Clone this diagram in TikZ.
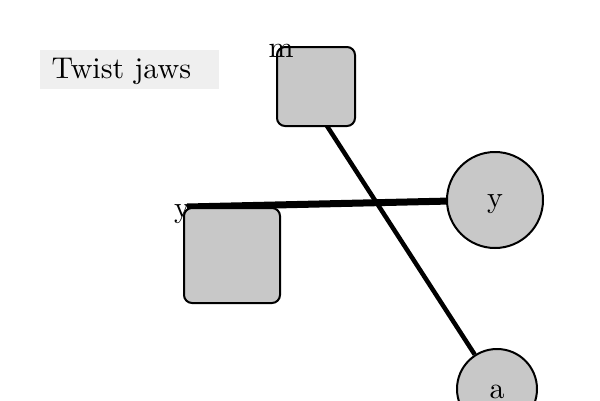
\documentclass[tikz,border=0pt]{standalone}
\usetikzlibrary{calc}
\definecolor{boxgray}{HTML}{C8C8C8}
\definecolor{titlegray}{HTML}{EFEFEF}
\begin{document}
\begin{tikzpicture}[x=1pt,y=-1pt,
  txt/.style={font=\normalsize,scale=3.0,transform shape=false},
  sqbox/.style={draw=black,line width=2pt,fill=boxgray,rounded corners=8pt},
  circ/.style={circle,draw=black,line width=2pt,fill=boxgray,inner sep=0pt},
  conn/.style={line width=4.5pt,draw=black},
  thickconn/.style={line width=7pt,draw=black},
  corner/.style={txt,inner sep=0pt,anchor=center}]
\useasboundingbox (0,0) rectangle (600,400);
\fill[titlegray] (40,50) rectangle (219,89);
\node[txt,anchor=west,inner sep=0pt] (title) at (51,71) {Twist jaws};
% circles
\node[circ,minimum size=96pt] (cy) at (495,200) {};
\node[txt] (cyl) at ([yshift=-4pt]cy.center) {y};
\node[circ,minimum size=80pt] (ca) at (497,389) {};
\node[txt] (cal) at ([yshift=-3pt]ca.center) {a};
% connectors
\coordinate (mfoot) at (327,126);
\coordinate (yfoot) at (187,207);
\draw[conn] (mfoot) -- (ca);
\draw[thickconn] (yfoot) -- (cy);
% boxes
\draw[sqbox] (277,47) rectangle (355,126);
\draw[sqbox] (184,208) rectangle (280,303);
\node[corner] (lm) at (281,51) {m};
\node[corner] (ly) at (182,214) {y};
\end{tikzpicture}
\end{document}
